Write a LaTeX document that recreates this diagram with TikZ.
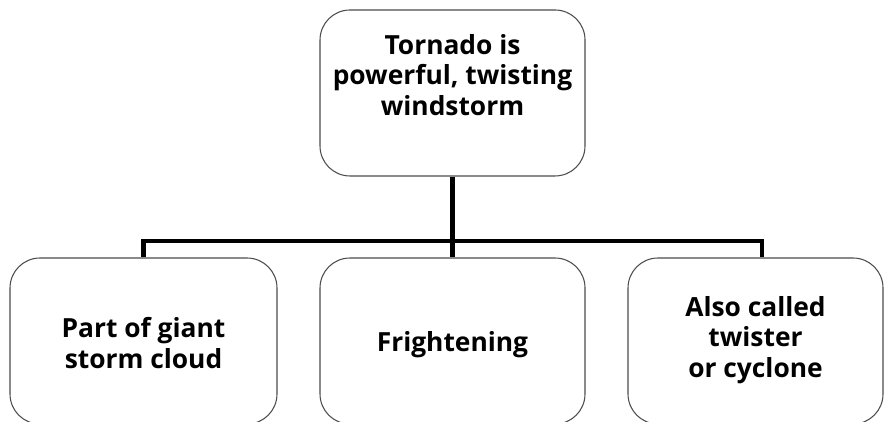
\documentclass[tikz,border=0pt]{standalone}
\usepackage{fontspec}
\setmainfont{Open Sans}

\tikzset{
  box/.style={draw=black!70, rounded corners=0.6cm, line width=0.6pt,
    minimum height=3.32cm, inner sep=0pt},
  bar/.style={line width=2.8pt},
  txt/.style={align=center, font=\bfseries\fontsize{15}{17.5}\selectfont}
}

\begin{document}
\begin{tikzpicture}

\useasboundingbox (0,0) rectangle (17.7,8.44);

\node [box, minimum width=5.3cm] (tornado) at (9.05,6.58) {};
\node [box, minimum width=5.34cm] (cloud) at (2.87,1.62) {};
\node [box, minimum width=5.3cm] (fright) at (9.05,1.62) {};
\node [box, minimum width=5.1cm] (twister) at (15.11,1.62) {};

\node [txt] (tornadotxt) at (9.05,6.94) {Tornado is\\powerful, twisting\\windstorm};
\node [txt] (cloudtxt) at (2.87,1.58) {Part of giant\\storm cloud};
\node [txt] (frighttxt) at (9.05,1.54) {Frightening};
\node [txt] (twistertxt) at (15.11,1.64) {Also called\\twister\\or cyclone};

\coordinate (split) at (9.05,3.62);
\coordinate (rightend) at ([xshift=0.13cm]twister.north);

\draw [bar] (tornado.south) -- (fright.north);
\draw [bar] (cloud.north) |- (split) -| (rightend);
\end{tikzpicture}
\end{document}
